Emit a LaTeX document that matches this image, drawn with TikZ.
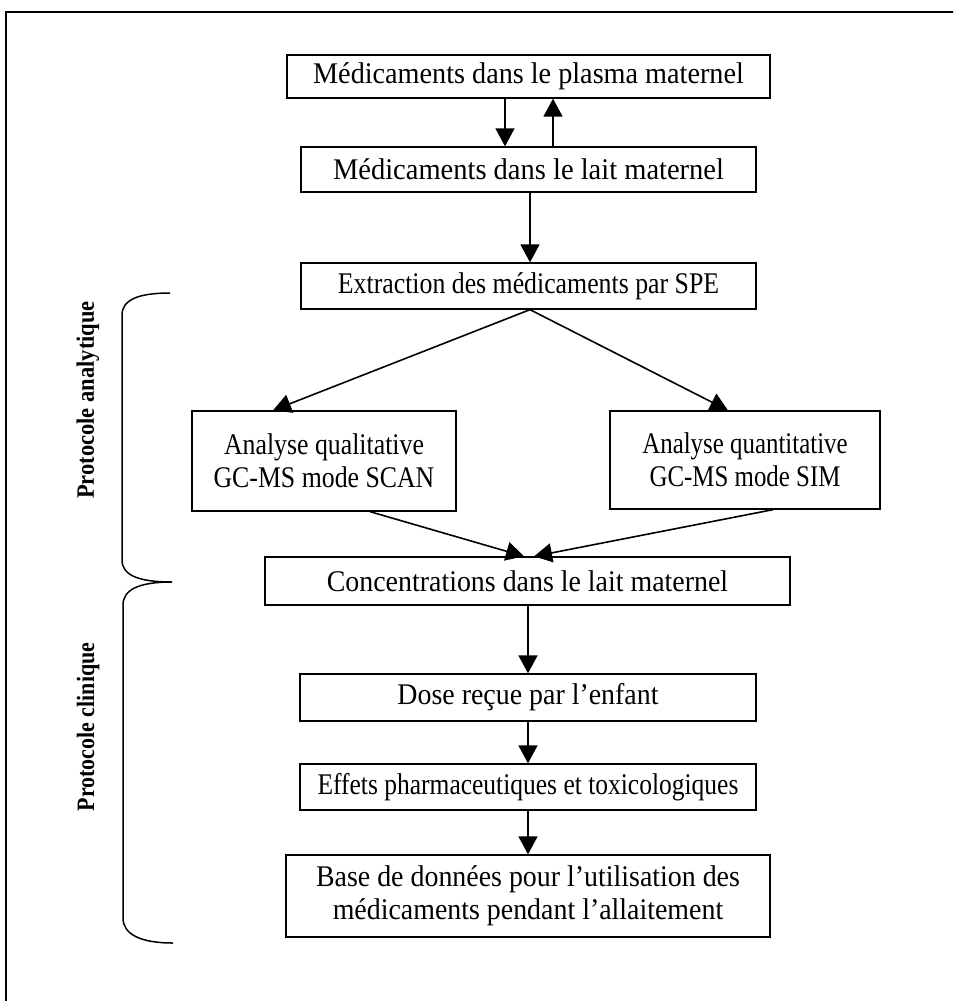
\documentclass[tikz,border=0pt]{standalone}
\usepackage{fontspec}
\setmainfont{Liberation Serif}
\usetikzlibrary{arrows.meta}
% horizontally condensed line of text
\newcommand{\cond}[2]{\scalebox{#1}[1]{#2}}
\begin{document}
\begin{tikzpicture}[x=1pt,y=-1pt,
  box/.style={draw, line width=1.3pt, inner sep=0pt, align=center,
              font=\fontsize{30}{33}\selectfont},
  flow/.style={line width=1.6pt, -{Triangle[length=18pt,width=19pt]}},
  side/.style={font=\bfseries\fontsize{25}{28}\selectfont, rotate=90},
  brace/.style={line width=1.5pt}]
\useasboundingbox (0,0) rectangle (953,1001);
\begin{scope}
  \clip (0,0) rectangle (953,1001);
  \draw[line width=1.8pt] (6,1020) -- (6,12) -- (970,12);
\end{scope}

% flow boxes
\node[box, minimum width=483pt, minimum height=43pt] (plasma) at (528.5,76.5)
  {\cond{0.94}{Médicaments dans le plasma maternel}};
\node[box, minimum width=455pt, minimum height=45pt] (lait) at (528.5,169.5)
  {\cond{0.95}{Médicaments dans le lait maternel}};
\node[box, minimum width=455pt, minimum height=46pt] (spe) at (528.5,286)
  {\cond{0.86}{Extraction des médicaments par SPE}};
\node[box, minimum width=264pt, minimum height=100pt] (qual) at (324,461)
  {\cond{0.86}{Analyse qualitative}\\\cond{0.86}{GC-MS mode SCAN}};
\node[box, minimum width=270pt, minimum height=98pt] (quant) at (745,460)
  {\cond{0.83}{Analyse quantitative}\\\cond{0.83}{GC-MS mode SIM}};
\node[box, minimum width=525pt, minimum height=48pt] (conc) at (527.5,581)
  {\cond{0.93}{Concentrations dans le lait maternel}};
\node[box, minimum width=456pt, minimum height=47pt] (dose) at (528,697.5)
  {\cond{0.93}{Dose reçue par l’enfant}};
\node[box, minimum width=456pt, minimum height=46pt] (effets) at (528,787)
  {\cond{0.85}{Effets pharmaceutiques et toxicologiques}};
\node[box, minimum width=484pt, minimum height=82pt] (base) at (528,896)
  {\cond{0.93}{Base de données pour l’utilisation des}\\
   \cond{0.93}{médicaments pendant l’allaitement}};

% connectors
\draw[flow] (plasma.south -| 505,0) -- (lait.north -| 505,0);
\draw[flow] (lait.north -| 553,0) -- (plasma.south -| 553,0);
\draw[flow] (lait.south -| 530,0) -- (spe.north -| 530,0);
\draw[flow] (spe.south -| 530,0) -- (qual.north -| 273,0);
\draw[flow] (spe.south -| 530,0) -- (quant.north -| 728,0);
\draw[flow] (qual.south -| 370,0) -- (conc.north -| 524,0);
\draw[flow] (quant.south -| 773,0) -- (conc.north -| 534,0);
\draw[flow] (conc.south -| 528,0) -- (dose.north -| 528,0);
\draw[flow] (dose.south -| 528,0) -- (effets.north -| 528,0);
\draw[flow] (effets.south -| 528,0) -- (base.north -| 528,0);

% side braces
\draw[brace] (170,293) .. controls (138,293) and (122,300) .. (122,315)
  -- (122,560) .. controls (122,575) and (138,582) .. (172,582);
\draw[brace] (172,582) .. controls (138,582) and (123,590) .. (123,605)
  -- (123,918) .. controls (123,934) and (140,943) .. (173,943);

% side labels
\node[side] (lana) at (88,400) {\cond{0.9}{Protocole analytique}};
\node[side] (lcli) at (88,727) {\cond{0.88}{Protocole clinique}};
\end{tikzpicture}
\end{document}
